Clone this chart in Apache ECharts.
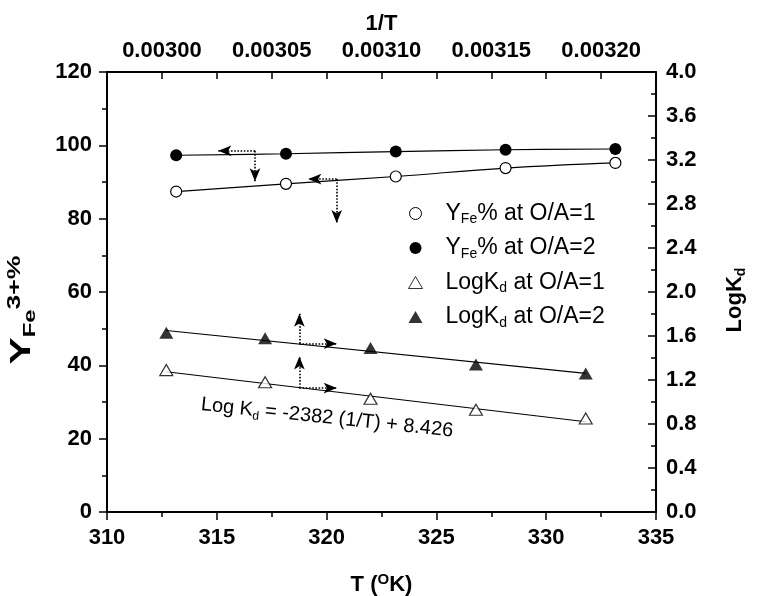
<!DOCTYPE html>
<html>
<head>
<meta charset="utf-8">
<script src="https://cdn.jsdelivr.net/npm/echarts@6/dist/echarts.min.js"></script>
<style>
  html, body { margin: 0; padding: 0; background: #fff; }
  #chart { width: 759px; height: 596px; }
</style>
</head>
<body>
<div id="chart"></div>
<script>
// Extraction temperatures (K)
const tempK = [313.15, 318.15, 323.15, 328.15, 333.15];
// Fe(III) extraction yield, % (O/A = 1 and O/A = 2)
const yieldOA1 = [87.4, 89.5, 91.5, 93.8, 95.2];
const yieldOA2 = [97.3, 97.7, 98.3, 98.8, 99.0];

// Reciprocal temperature (1/K) and distribution coefficients
const invT = [0.003002, 0.003047, 0.003095, 0.003143, 0.003193];
const logKdOA1 = [1.29, 1.18, 1.03, 0.93, 0.85];
const logKdOA2 = [1.63, 1.58, 1.49, 1.34, 1.26];

// Van't Hoff fit for O/A = 1: Log Kd = -2382 (1/T) + 8.426
const KD_SLOPE_OA1 = -2382;
const KD_INTERCEPT_OA1 = 8.426;
// Linear fit for O/A = 2, values at the ends of the 1/T range
const kdFitOA2 = [1.65, 1.26];

// Axis tick values
const tTicks = { min: 310, max: 335, step: 5 };
const yieldTicks = { min: 0, max: 120, step: 20 };
const kdTicks = { min: 0, max: 4, step: 0.4 };
const invTTicks = { min: 0.002975, max: 0.003225, step: 0.000025, labelEvery: 2 };

const FONT = "'Liberation Sans', Arial, Helvetica, sans-serif";
const BLACK = '#000';

const pair = (xs, ys) => xs.map((x, i) => [x, ys[i]]);
const invEnds = [invT[0], invT[invT.length - 1]];
const kdFitLineOA1 = invEnds.map(x => [x, KD_SLOPE_OA1 * x + KD_INTERCEPT_OA1]);
const kdFitLineOA2 = invEnds.map((x, i) => [x, kdFitOA2[i]]);

const labelStyle = { color: BLACK, fontFamily: FONT, fontWeight: 'bold', fontSize: 22 };
const nameRich = {
  a:   { fontFamily: FONT, fontWeight: 'bold', fontSize: 22, color: BLACK, lineHeight: 26, verticalAlign: 'middle' },
  sub: { fontFamily: FONT, fontWeight: 'bold', fontSize: 14, color: BLACK, lineHeight: 14, verticalAlign: 'bottom' },
  sup: { fontFamily: FONT, fontWeight: 'bold', fontSize: 15, color: BLACK, lineHeight: 15, verticalAlign: 'top' }
};

function axisBase(inside) {
  return {
    type: 'value',
    splitLine: { show: false },
    axisLine: { show: true, onZero: false, lineStyle: { color: BLACK, width: 2 } },
    axisTick: { show: true, inside: inside, length: 8, lineStyle: { color: BLACK, width: 1.5 } },
    minorTick: { show: true, splitNumber: 2, length: 5, lineStyle: { color: BLACK, width: 1.5 } },
    minorSplitLine: { show: false }
  };
}

// Legend labels with subscripts
const legendText = {
  'YFe% at O/A=1': '{n|Y}{s|Fe}{n|% at O/A=1}',
  'YFe% at O/A=2': '{n|Y}{s|Fe}{n|% at O/A=2}',
  'LogKd at O/A=1': '{n|LogK}{s|d}{n| at O/A=1}',
  'LogKd at O/A=2': '{n|LogK}{s|d}{n| at O/A=2}'
};

// Dotted guide arrows pointing each data set to its axis (T, yield coordinates)
const guideArrows = [
  [[316.74, 98.5], [315.07, 98.5]],
  [[316.74, 98.5], [316.74, 90.2]],
  [[320.46, 90.8], [319.17, 90.8]],
  [[320.46, 90.8], [320.46, 78.8]],
  [[318.76, 45.9], [318.76, 54.1]],
  [[318.76, 45.9], [320.46, 45.9]],
  [[318.76, 33.8], [318.76, 42.4]],
  [[318.76, 33.8], [320.46, 33.8]]
];

const chart = echarts.init(document.getElementById('chart'));

const option = {
  backgroundColor: '#fff',
  animation: false,
  grid: { left: 107, right: 103, top: 72, bottom: 84, containLabel: false, outerBoundsMode: 'none' },
  legend: {
    orient: 'vertical',
    left: 403,
    top: 197,
    itemWidth: 14,
    itemHeight: 12,
    itemGap: 10,
    selectedMode: false,
    symbolKeepAspect: true,
    formatter: name => legendText[name],
    textStyle: {
      color: BLACK,
      padding: [0, 0, 0, 18],
      rich: {
        n: { fontFamily: FONT, fontSize: 23, color: BLACK, lineHeight: 26, verticalAlign: 'middle' },
        s: { fontFamily: FONT, fontSize: 14, color: BLACK, lineHeight: 14, verticalAlign: 'bottom' }
      }
    },
    data: [
      { name: 'YFe% at O/A=1', icon: 'circle', itemStyle: { color: '#fff', borderColor: BLACK, borderWidth: 1 } },
      { name: 'YFe% at O/A=2', icon: 'circle', itemStyle: { color: BLACK, borderColor: BLACK, borderWidth: 0 } },
      { name: 'LogKd at O/A=1', icon: 'triangle', itemStyle: { color: '#fff', borderColor: BLACK, borderWidth: 1 } },
      { name: 'LogKd at O/A=2', icon: 'triangle', itemStyle: { color: BLACK, borderColor: BLACK, borderWidth: 0 } }
    ]
  },
  xAxis: [
    Object.assign(axisBase(false), {
      position: 'bottom',
      min: tTicks.min, max: tTicks.max, interval: tTicks.step,
      axisLabel: Object.assign({ margin: 15 }, labelStyle),
      name: '{a|T (}{sup|O}{a|K)}',
      nameLocation: 'middle',
      nameGap: 60,
      nameTextStyle: { rich: nameRich }
    }),
    Object.assign(axisBase(true), {
      position: 'top',
      min: invTTicks.min, max: invTTicks.max, interval: invTTicks.step,
      minorTick: { show: false },
      axisTick: { show: true, inside: true, length: 7, lineStyle: { color: BLACK, width: 1.5 } },
      axisLabel: Object.assign({
        margin: 10,
        formatter: v => (Math.round(v / invTTicks.step) % invTTicks.labelEvery === 0) ? v.toFixed(5) : ''
      }, labelStyle),
      name: '{a|1/T}',
      nameLocation: 'middle',
      nameGap: 35,
      nameTextStyle: { rich: nameRich }
    })
  ],
  yAxis: [
    Object.assign(axisBase(false), {
      position: 'left',
      min: yieldTicks.min, max: yieldTicks.max, interval: yieldTicks.step,
      axisLabel: Object.assign({ margin: 15 }, labelStyle)
    }),
    Object.assign(axisBase(true), {
      position: 'right',
      min: kdTicks.min, max: kdTicks.max, interval: kdTicks.step,
      axisLabel: Object.assign({ margin: 10, formatter: v => v.toFixed(1) }, labelStyle),
      name: '{a|LogK}{sub|d}',
      nameLocation: 'middle',
      nameRotate: 90,
      nameGap: 66,
      nameTextStyle: { rich: nameRich, padding: [0, 16, 0, 0] }
    })
  ],
  // Yield axis title: tall, widely set lettering with sub- and superscript
  graphic: [{
    type: 'text',
    id: 'yieldTitle',
    x: 22,
    y: 310,
    rotation: Math.PI / 2,
    scaleX: 1.4,
    silent: true,
    style: {
      text: '{a|Y}{sub|Fe}{sup|3+%}',
      align: 'center',
      verticalAlign: 'middle',
      rich: {
        a:   { fontFamily: FONT, fontWeight: 'bold', fontSize: 29, fill: BLACK, lineHeight: 34, verticalAlign: 'middle' },
        sub: { fontFamily: FONT, fontWeight: 'bold', fontSize: 17, fill: BLACK, lineHeight: 24, verticalAlign: 'bottom' },
        sup: { fontFamily: FONT, fontWeight: 'bold', fontSize: 19, fill: BLACK, lineHeight: 27, verticalAlign: 'top' }
      }
    }
  }],
  series: [
    {
      name: 'YFe% at O/A=1',
      type: 'line',
      xAxisIndex: 0, yAxisIndex: 0,
      data: pair(tempK, yieldOA1),
      smooth: 0.4,
      symbol: 'circle',
      symbolSize: 11,
      itemStyle: { color: '#fff', borderColor: BLACK, borderWidth: 1.2 },
      lineStyle: { color: BLACK, width: 1.2 },
      z: 3,
      markLine: {
        silent: true,
        animation: false,
        symbol: ['none', 'arrow'],
        symbolSize: [8, 13],
        label: { show: false },
        lineStyle: { color: BLACK, type: 'dotted', width: 1.6 },
        data: guideArrows.map(seg => [{ coord: seg[0] }, { coord: seg[1] }])
      }
    },
    {
      name: 'YFe% at O/A=2',
      type: 'line',
      xAxisIndex: 0, yAxisIndex: 0,
      data: pair(tempK, yieldOA2),
      smooth: 0.4,
      symbol: 'circle',
      symbolSize: 12,
      itemStyle: { color: BLACK },
      lineStyle: { color: BLACK, width: 1.2 },
      z: 3
    },
    {
      name: 'LogKd fit O/A=1',
      type: 'line',
      xAxisIndex: 1, yAxisIndex: 1,
      data: kdFitLineOA1,
      symbol: 'none',
      lineStyle: { color: BLACK, width: 1.2 },
      z: 2
    },
    {
      name: 'LogKd fit O/A=2',
      type: 'line',
      xAxisIndex: 1, yAxisIndex: 1,
      data: kdFitLineOA2,
      symbol: 'none',
      lineStyle: { color: BLACK, width: 1.2 },
      z: 2
    },
    {
      name: 'LogKd at O/A=1',
      type: 'scatter',
      xAxisIndex: 1, yAxisIndex: 1,
      data: pair(invT, logKdOA1),
      symbol: 'triangle',
      symbolSize: [13, 11],
      itemStyle: { color: '#fff', borderColor: BLACK, borderWidth: 1.2 },
      z: 4
    },
    {
      name: 'LogKd at O/A=2',
      type: 'scatter',
      xAxisIndex: 1, yAxisIndex: 1,
      data: pair(invT, logKdOA2),
      symbol: 'triangle',
      symbolSize: [14, 12],
      itemStyle: { color: BLACK },
      z: 4
    }
  ]
};

chart.setOption(option);

// Fit equation label, anchored in data coordinates and tilted along the fit line
const eqAnchor = chart.convertToPixel({ xAxisIndex: 0, yAxisIndex: 0 }, [314.28, 29.3]);
chart.setOption({
  graphic: [{
    type: 'text',
    id: 'fitEquation',
    x: eqAnchor[0],
    y: eqAnchor[1],
    rotation: -0.105,
    silent: true,
    style: {
      text: '{a|Log K}{s|d}{a| = -2382 (1/T) + 8.426}',
      fill: BLACK,
      align: 'left',
      verticalAlign: 'middle',
      rich: {
        a: { fontFamily: FONT, fontSize: 20, fill: BLACK, lineHeight: 24, verticalAlign: 'middle' },
        s: { fontFamily: FONT, fontSize: 12, fill: BLACK, lineHeight: 12, verticalAlign: 'bottom' }
      }
    }
  }]
});
</script>
</body>
</html>
